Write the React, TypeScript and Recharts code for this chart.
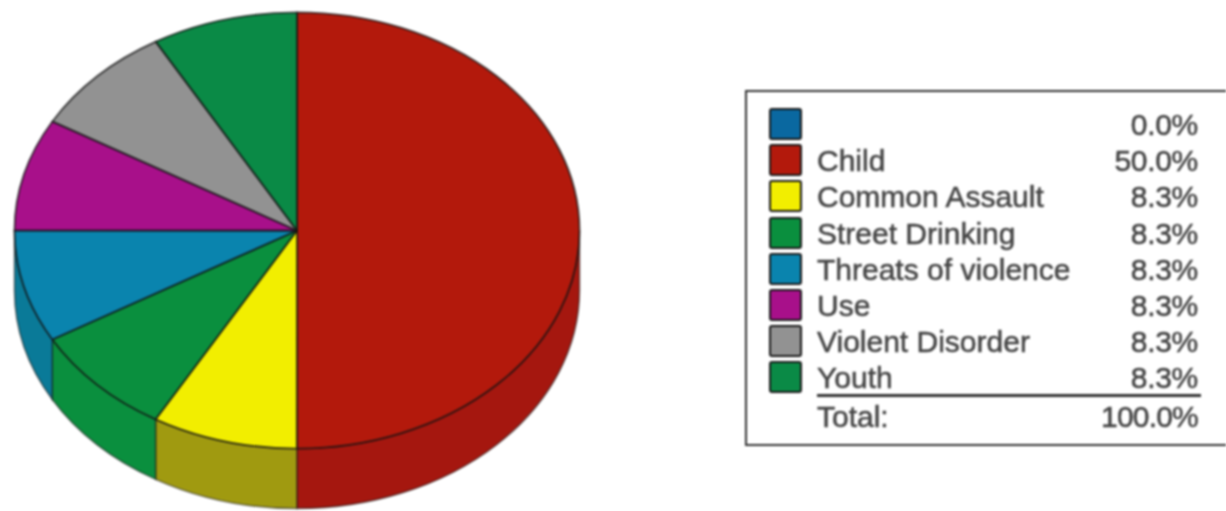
import React from "react";
import { PieChart, Pie, Legend } from "recharts";

const names = ["", "Child", "Common Assault", "Street Drinking", "Threats of violence", "Use", "Violent Disorder", "Youth"];
const values = [0, 50, 8.33, 8.33, 8.33, 8.33, 8.33, 8.33];
const percentLabels = ["0.0%", "50.0%", "8.3%", "8.3%", "8.3%", "8.3%", "8.3%", "8.3%"];
const totalLabel = "Total:";
const totalValue = "100.0%";
const topColors = ["#0a68a0", "#b3190c", "#f2ee00", "#0a8f3e", "#0a84ae", "#a8108a", "#929292", "#0a8a46"];
const wallColors = ["#0a5a8a", "#a5170f", "#a09a10", "#0a8f3e", "#0a7a98", "#8a0e70", "#777777", "#0a7a3e"];

const data = names.map((name, i) => ({ name, value: values[i], fill: topColors[i] }));

const SQUASH = 0.772;
const DEPTH = 60;

function EllipticSector(props: any) {
  const { cx, cy, outerRadius, startAngle, endAngle, fill, name, payload } = props;
  const rx = outerRadius;
  const ry = outerRadius * SQUASH;
  const hi = Math.max(startAngle, endAngle);
  const lo = Math.min(startAngle, endAngle);
  if (hi - lo <= 0) return null;
  const pt = (a: number) => {
    const r = (a * Math.PI) / 180;
    return [cx + rx * Math.cos(r), cy - ry * Math.sin(r)];
  };
  const [x0, y0] = pt(hi);
  const [x1, y1] = pt(lo);
  const large = hi - lo > 180 ? 1 : 0;
  const top = `M${cx},${cy} L${x0},${y0} A${rx},${ry} 0 ${large} 1 ${x1},${y1} Z`;
  const wHi = Math.min(hi, 0);
  const wLo = Math.max(lo, -180);
  let wall: string | null = null;
  if (wHi > wLo) {
    const [a0, b0] = pt(wHi);
    const [a1, b1] = pt(wLo);
    wall = `M${a0},${b0} A${rx},${ry} 0 0 1 ${a1},${b1} L${a1},${b1 + DEPTH} A${rx},${ry} 0 0 0 ${a0},${b0 + DEPTH} Z`;
  }
  const idx = names.indexOf(name ?? payload?.name);
  return (
    <g>
      {wall && <path d={wall} fill={wallColors[idx]} stroke="#101010" strokeOpacity={0.55} strokeWidth={1.5} />}
      <path d={top} fill={fill} stroke="#101010" strokeOpacity={0.75} strokeWidth={1.8} strokeLinejoin="round" />
    </g>
  );
}

const textStyle: React.CSSProperties = {
  position: "absolute",
  fontFamily: "'Liberation Sans', Arial, sans-serif",
  fontSize: 30,
  lineHeight: "36px",
  color: "#444444",
  whiteSpace: "nowrap",
  WebkitTextStroke: "0.5px #444444",
};

function LegendBox() {
  const rowY = (i: number) => 33 + i * 36.2;
  return (
    <div style={{ position: "relative", width: 490, height: 356, boxSizing: "border-box", border: "2.5px solid #333", background: "#fff" }}>
      {names.map((n, i) => (
        <React.Fragment key={i}>
          <div style={{ position: "absolute", left: 22, top: rowY(i) - 17, width: 33, height: 32, boxSizing: "border-box", background: topColors[i], border: "2.5px solid #1a1a1a", borderRadius: 3 }} />
          <div style={{ ...textStyle, left: 70, top: rowY(i) - 18 }}>{n}</div>
          <div style={{ ...textStyle, right: 35, top: rowY(i) - 18, letterSpacing: -0.3 }}>{percentLabels[i]}</div>
        </React.Fragment>
      ))}
      <div style={{ position: "absolute", left: 70, top: 302, width: 384, height: 3, background: "#333" }} />
      <div style={{ ...textStyle, left: 70, top: 307 }}>{totalLabel}</div>
      <div style={{ ...textStyle, right: 35, top: 307, letterSpacing: -0.8 }}>{totalValue}</div>
    </div>
  );
}

export default function App() {
  return (
    <div style={{ position: "absolute", left: 0, top: 0, width: 1226, height: 511, overflow: "hidden", background: "#fff", filter: "blur(1px)" }}>
      <PieChart width={1226} height={511} margin={{ top: 0, right: 0, bottom: 0, left: 0 }}>
        <Pie
          data={data}
          dataKey="value"
          nameKey="name"
          cx={297}
          cy={230.5}
          innerRadius={0}
          outerRadius={282.5}
          startAngle={90}
          endAngle={-270}
          paddingAngle={0}
          isAnimationActive={false}
          labelLine={false}
          shape={EllipticSector}
        />
        <Legend
          content={() => <LegendBox />}
          wrapperStyle={{ position: "absolute", left: 745, top: 90, width: 490, height: 356, bottom: "auto" }}
        />
      </PieChart>
    </div>
  );
}
